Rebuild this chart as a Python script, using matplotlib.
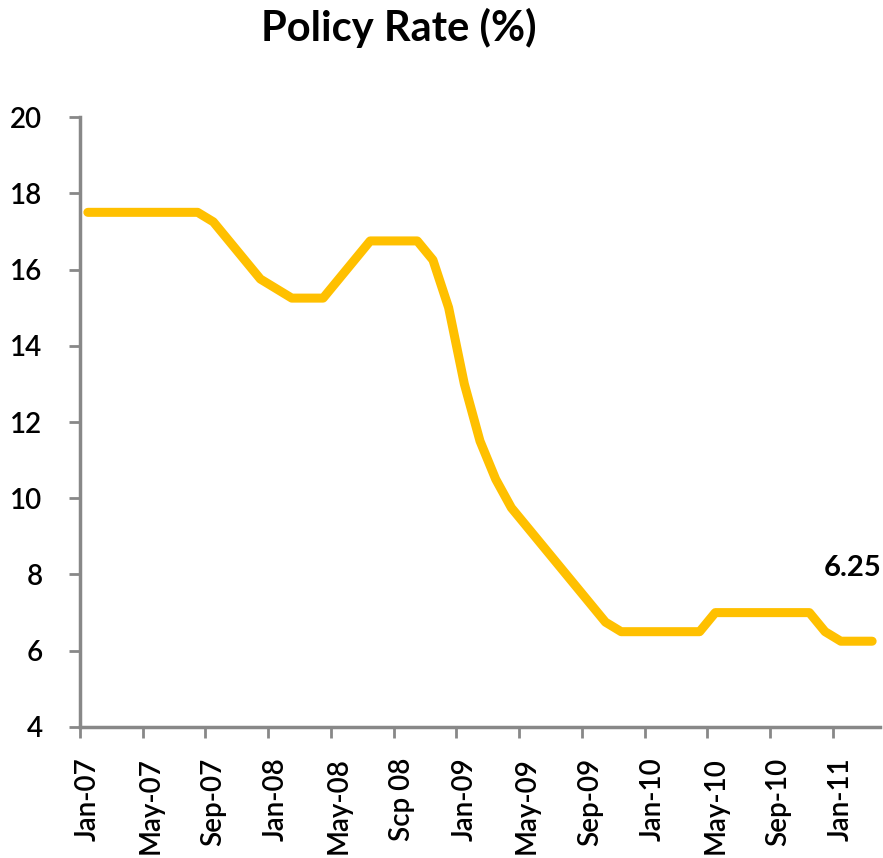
import matplotlib
matplotlib.use("Agg")
import matplotlib.pyplot as plt
import numpy as np

# monthly policy rate, Jan-07 .. Mar-11
months = ["Jan-07", "Feb-07", "Mar-07", "Apr-07", "May-07", "Jun-07", "Jul-07", "Aug-07",
          "Sep-07", "Oct-07", "Nov-07", "Dec-07",
          "Jan-08", "Feb-08", "Mar-08", "Apr-08", "May-08", "Jun-08", "Jul-08", "Aug-08",
          "Scp 08", "Oct-08", "Nov-08", "Dec-08",
          "Jan-09", "Feb-09", "Mar-09", "Apr-09", "May-09", "Jun-09", "Jul-09", "Aug-09",
          "Sep-09", "Oct-09", "Nov-09", "Dec-09",
          "Jan-10", "Feb-10", "Mar-10", "Apr-10", "May-10", "Jun-10", "Jul-10", "Aug-10",
          "Sep-10", "Oct-10", "Nov-10", "Dec-10",
          "Jan-11", "Feb-11", "Mar-11"]
rate = [17.5, 17.5, 17.5, 17.5, 17.5, 17.5, 17.5, 17.5, 17.25, 16.75, 16.25, 15.75,
        15.5, 15.25, 15.25, 15.25, 15.75, 16.25, 16.75, 16.75, 16.75, 16.75, 16.25, 15.0,
        13.0, 11.5, 10.5, 9.75, 9.25, 8.75, 8.25, 7.75, 7.25, 6.75, 6.5, 6.5,
        6.5, 6.5, 6.5, 6.5, 7.0, 7.0, 7.0, 7.0, 7.0, 7.0, 7.0, 6.5,
        6.25, 6.25, 6.25]
last_label = "6.25"

plt.rcParams['font.family'] = ['Lato', 'DejaVu Sans']

fig = plt.figure(figsize=(8.83, 8.58), dpi=100)
ax = fig.add_axes([0.0906, 0.1527, 0.9060, 0.7109])

x = np.arange(len(months))
ax.plot(x, rate, color="#FFC000", lw=6.5, solid_capstyle="round", solid_joinstyle="round")

ax.set_xlim(-0.5, len(months) - 0.5)
ax.set_ylim(4, 20)
ax.set_yticks(np.arange(4, 21, 2))
ax.set_yticklabels([str(v) for v in range(4, 21, 2)], fontsize=20, fontweight="semibold")

# labels at every 4th month, tick marks on the category boundaries
ax.set_xticks(x[::4])
ax.set_xticklabels(months[::4], rotation=90, fontsize=20, fontweight="semibold")
ax.set_xticks(x[::4] - 0.5, minor=True)
ax.tick_params(axis="x", which="major", length=0, pad=22)
ax.tick_params(axis="x", which="minor", length=8, width=2, color="#888888")
ax.tick_params(axis="y", length=8, width=2, color="#888888", pad=19)

for s in ["top", "right"]:
    ax.spines[s].set_visible(False)
for s in ["left", "bottom"]:
    ax.spines[s].set_color("#888888")
    ax.spines[s].set_linewidth(2.5)

ax.annotate(last_label, xy=(x[-1], rate[-1]), xytext=(-14, 53), textcoords="offset points",
            ha="center", va="center", fontsize=21, fontweight="bold")

fig.text(0.452, 0.967, "Policy Rate (%)", ha="center", va="center", fontsize=30, fontweight="bold")

fig.savefig("out.png", dpi=100)
